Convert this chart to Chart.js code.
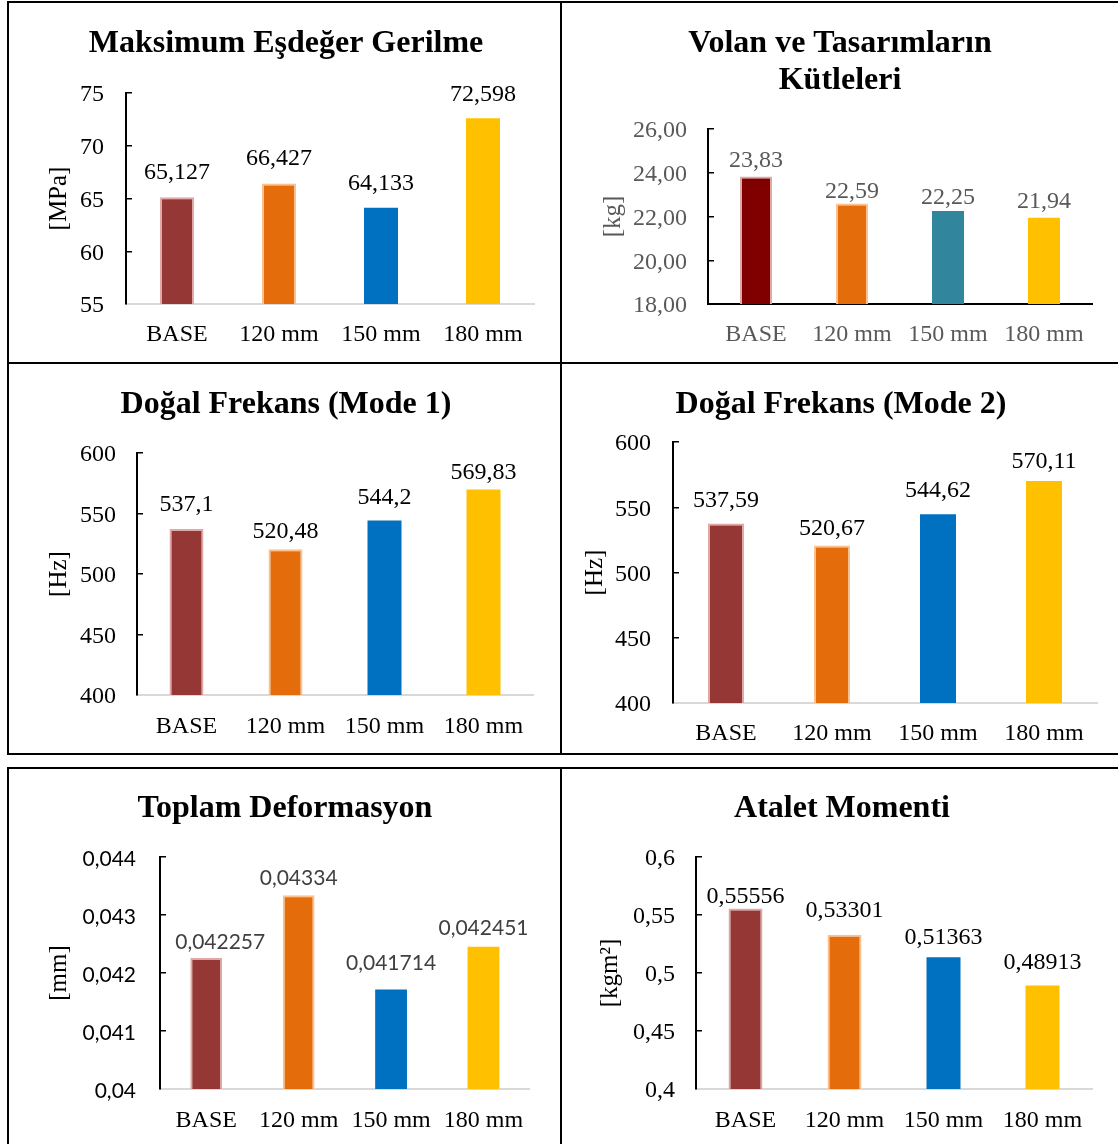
<!DOCTYPE html>
<html>
<head>
<meta charset="utf-8">
<script src="https://cdn.jsdelivr.net/npm/chart.js@4.4.1/dist/chart.umd.min.js"></script>
<style>
  html, body { margin: 0; padding: 0; background: #fff; }
  #page { position: relative; width: 1118px; height: 1144px; overflow: hidden; background: #fff; }
  .ln { position: absolute; background: #000; }
  canvas { position: absolute; }
</style>
</head>
<body>
<div id="page">
  <!-- panel frame lines -->
  <div class="ln" style="left:7px;top:1px;width:1111px;height:2px"></div>
  <div class="ln" style="left:7px;top:1px;width:2px;height:754px"></div>
  <div class="ln" style="left:560px;top:1px;width:2px;height:754px"></div>
  <div class="ln" style="left:7px;top:362px;width:1111px;height:2px"></div>
  <div class="ln" style="left:7px;top:753px;width:1111px;height:2px"></div>
  <div class="ln" style="left:7px;top:767px;width:1111px;height:2px"></div>
  <div class="ln" style="left:7px;top:767px;width:2px;height:377px"></div>
  <div class="ln" style="left:560px;top:767px;width:2px;height:377px"></div>

  <canvas id="cStress"></canvas>
  <canvas id="cMass"></canvas>
  <canvas id="cMode1"></canvas>
  <canvas id="cMode2"></canvas>
  <canvas id="cDeform"></canvas>
  <canvas id="cInertia"></canvas>
</div>
<script>
/********************
 * Data
 ********************/
const categories = ['BASE', '120 mm', '150 mm', '180 mm'];

const stressMPa     = [65.127, 66.427, 64.133, 72.598];
const massKg        = [23.83, 22.59, 22.25, 21.94];
const freqMode1Hz   = [537.1, 520.48, 544.2, 569.83];
const freqMode2Hz   = [537.59, 520.67, 544.62, 570.11];
const deformationMm = [0.042257, 0.04334, 0.041714, 0.042451];
const inertiaKgm2   = [0.55556, 0.53301, 0.51363, 0.48913];

// y axis ranges: [min, max, step]
const stressTicks  = [55, 75, 5];
const massTicks    = [18, 26, 2];
const mode1Ticks   = [400, 600, 50];
const mode2Ticks   = [400, 600, 50];
const deformTicks  = [0.04, 0.044, 0.001];
const inertiaTicks = [0.4, 0.6, 0.05];

/********************
 * Styles
 ********************/
const SERIF = "'Liberation Serif', 'Times New Roman', serif";
const SANS = "Lato, 'Open Sans', sans-serif";
Chart.defaults.font.family = SERIF;

const fills     = ['#953735', '#E46C0A', '#0070C0', '#FFC000'];
const massFills = ['#800000', '#E46C0A', '#31859C', '#FFC000'];
const edges     = ['#E0A8A6', '#FAC090', 'rgba(0,0,0,0)', 'rgba(0,0,0,0)'];
const edgeW     = [2, 2, 0, 0];

const comma = v => String(+Number(v).toFixed(6)).replace('.', ',');
const comma2 = v => Number(v).toFixed(2).replace('.', ',');

// value labels above bars
function valueLabels(format, font, color, gaps, shifts){
  return {
    id: 'valueLabels',
    afterDatasetsDraw(chart){
      const ctx = chart.ctx;
      const meta = chart.getDatasetMeta(0);
      const data = chart.data.datasets[0].data;
      ctx.save();
      ctx.font = font;
      ctx.fillStyle = color;
      ctx.textAlign = 'center';
      ctx.textBaseline = 'middle';
      meta.data.forEach((bar, i) => {
        const dx = shifts ? shifts[i] : 0;
        ctx.fillText(format(data[i]), bar.x + dx, bar.y - gaps[i]);
      });
      ctx.restore();
    }
  };
}

// g = placement in page pixels, s = series + look
function drawPanel(id, g, s){
  const canvas = document.getElementById(id);
  const left = 2 * g.titleX - g.plotRight;      // keeps the title centred
  const width = g.plotRight + 10 - left;
  const height = g.bottom - g.top;
  canvas.width = width;
  canvas.height = height;
  canvas.style.left = left + 'px';
  canvas.style.top = g.top + 'px';

  const titleSize = 32, titleLH = titleSize * 1.16;
  const lines = Array.isArray(s.title) ? s.title.length : 1;
  const tTop = g.titleY + 2 - g.top - titleLH / 2;
  const tBottom = g.plotTop - g.top - tTop - lines * titleLH;
  const yTitleSize = 25, yTitleLH = yTitleSize * 1.2;
  const catW = (g.plotRight - g.axisX) / categories.length;

  return new Chart(canvas, {
    type: 'bar',
    data: {
      labels: categories,
      datasets: [{
        data: s.values,
        backgroundColor: s.fills,
        borderColor: edges,
        borderWidth: edgeW,
        borderSkipped: false,
        barPercentage: g.barW / catW,
        categoryPercentage: 1
      }]
    },
    options: {
      responsive: false,
      animation: false,
      devicePixelRatio: 1,
      layout: { padding: { left: 0, right: 10, top: 0, bottom: 0 } },
      plugins: {
        legend: { display: false },
        tooltip: { enabled: false },
        title: {
          display: true,
          text: s.title,
          color: '#000',
          font: { family: SERIF, size: titleSize, weight: 'bold', lineHeight: 1.16 },
          padding: { top: tTop, bottom: tBottom }
        }
      },
      scales: {
        x: {
          grid: { display: false, drawTicks: false },
          border: { display: true, color: s.xLine, width: 2 },
          ticks: {
            color: s.text, font: { family: SERIF, size: 24 },
            padding: g.xLabelY + 2 - g.plotBottom - 14.4,
            maxRotation: 0, autoSkip: false
          },
          afterFit: sc => { sc.height = g.bottom - g.plotBottom; }
        },
        y: {
          min: s.ticks[0], max: s.ticks[1],
          ticks: {
            stepSize: s.ticks[2],
            color: s.tickColor,
            font: s.tickFont,
            labelOffset: 2,
            padding: g.axisX - g.tickRight + 6,
            callback: s.tickFormat
          },
          grid: { display: true, drawOnChartArea: false, drawTicks: true, tickLength: -6, color: '#000', lineWidth: 1.5 },
          border: { display: true, color: '#000', width: 2 },
          title: {
            display: true, text: s.yTitle, color: s.text,
            font: { family: SERIF, size: yTitleSize },
            padding: { top: g.yTitleX - left - yTitleLH / 2, bottom: 0 }
          },
          afterFit: sc => { sc.width = g.axisX - left; }
        }
      }
    },
    plugins: [valueLabels(s.labelFormat, s.labelFont, s.labelColor, s.gaps, s.shifts)]
  });
}

const serif24 = { family: SERIF, size: 24 };

drawPanel('cStress',
  { top: 3, bottom: 361, titleX: 286, titleY: 42, axisX: 126, plotRight: 534, plotTop: 93, plotBottom: 304,
    tickRight: 104, yTitleX: 59, xLabelY: 333, barW: 34 },
  { title: 'Maksimum Eşdeğer Gerilme', yTitle: '[MPa]', values: stressMPa, ticks: stressTicks, fills,
    text: '#000', tickColor: '#000', tickFont: serif24, tickFormat: comma, xLine: '#D9D9D9',
    labelFormat: comma, labelFont: '24px ' + SERIF, labelColor: '#000', gaps: [24, 25, 24, 24] });

drawPanel('cMass',
  { top: 3, bottom: 361, titleX: 840, titleY: 42, axisX: 708, plotRight: 1092, plotTop: 129, plotBottom: 304,
    tickRight: 687, yTitleX: 613, xLabelY: 333, barW: 32 },
  { title: ['Volan ve Tasarımların', 'Kütleleri'], yTitle: '[kg]', values: massKg, ticks: massTicks, fills: massFills,
    text: '#595959', tickColor: '#595959', tickFont: serif24, tickFormat: comma2, xLine: '#000',
    labelFormat: comma2, labelFont: '24px ' + SERIF, labelColor: '#595959', gaps: [16, 12, 13, 16] });

drawPanel('cMode1',
  { top: 365, bottom: 753, titleX: 286, titleY: 403, axisX: 137, plotRight: 533, plotTop: 453, plotBottom: 695,
    tickRight: 116, yTitleX: 59, xLabelY: 725, barW: 34 },
  { title: 'Doğal Frekans (Mode 1)', yTitle: '[Hz]', values: freqMode1Hz, ticks: mode1Ticks, fills,
    text: '#000', tickColor: '#000', tickFont: serif24, tickFormat: comma, xLine: '#D9D9D9',
    labelFormat: comma, labelFont: '24px ' + SERIF, labelColor: '#000', gaps: [24, 18, 23, 17] });

drawPanel('cMode2',
  { top: 365, bottom: 753, titleX: 841, titleY: 403, axisX: 673, plotRight: 1097, plotTop: 442, plotBottom: 703,
    tickRight: 651, yTitleX: 595, xLabelY: 732, barW: 36 },
  { title: 'Doğal Frekans (Mode 2)', yTitle: '[Hz]', values: freqMode2Hz, ticks: mode2Ticks, fills,
    text: '#000', tickColor: '#000', tickFont: serif24, tickFormat: comma, xLine: '#D9D9D9',
    labelFormat: comma, labelFont: '24px ' + SERIF, labelColor: '#000', gaps: [23, 17, 24, 19] });

drawPanel('cDeform',
  { top: 769, bottom: 1144, titleX: 285, titleY: 807, axisX: 160, plotRight: 532, plotTop: 857, plotBottom: 1089,
    tickRight: 136, yTitleX: 59, xLabelY: 1119, barW: 32 },
  { title: 'Toplam Deformasyon', yTitle: '[mm]', values: deformationMm, ticks: deformTicks, fills,
    text: '#000', tickColor: '#000', tickFont: { family: SANS, size: 21 }, tickFormat: comma, xLine: '#D9D9D9',
    labelFormat: comma, labelFont: '21px ' + SANS, labelColor: '#404040', gaps: [16, 17, 26, 19], shifts: [14, 0, 0, 0] });

drawPanel('cInertia',
  { top: 769, bottom: 1144, titleX: 842, titleY: 807, axisX: 696, plotRight: 1092, plotTop: 857, plotBottom: 1089,
    tickRight: 675, yTitleX: 610, xLabelY: 1119, barW: 34 },
  { title: 'Atalet Momenti', yTitle: '[kgm²]', values: inertiaKgm2, ticks: inertiaTicks, fills,
    text: '#000', tickColor: '#000', tickFont: serif24, tickFormat: comma, xLine: '#D9D9D9',
    labelFormat: comma, labelFont: '24px ' + SERIF, labelColor: '#000', gaps: [12, 24, 19, 23] });
</script>
</body>
</html>
